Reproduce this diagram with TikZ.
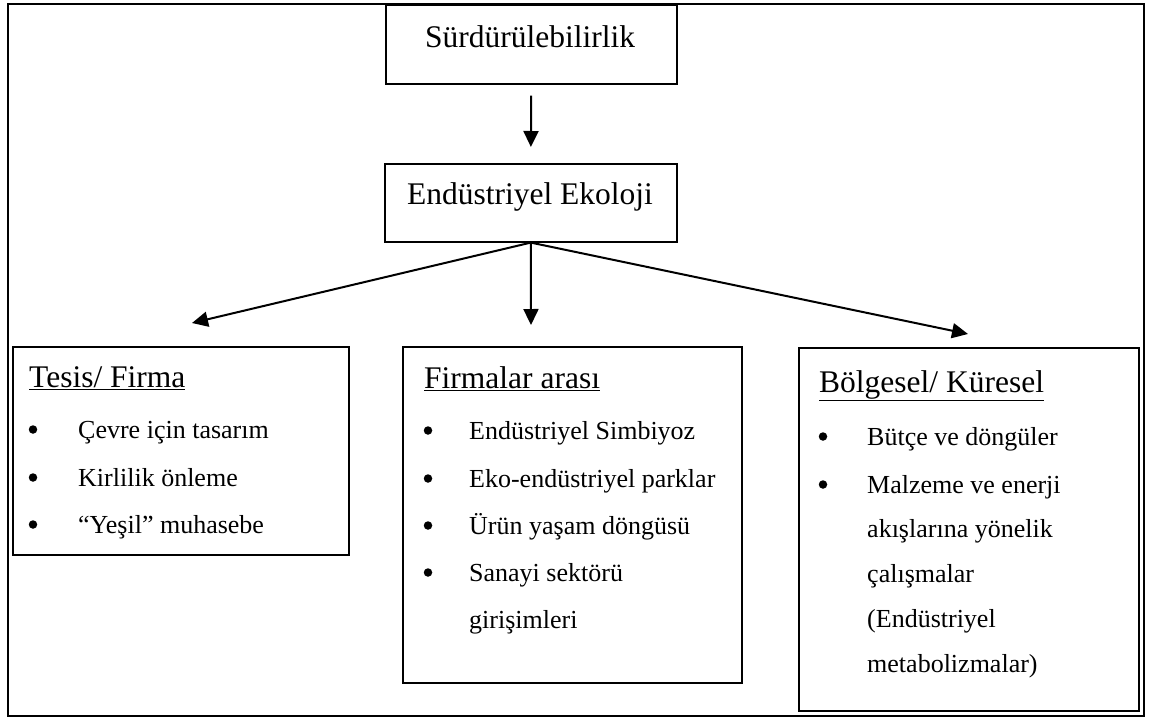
\documentclass[tikz,border=0pt]{standalone}
\usepackage{fontspec}
\setmainfont{Liberation Serif}
\usetikzlibrary{arrows.meta}
\tikzset{
  box/.style={draw=black, line width=1.6pt, rectangle, inner sep=0pt, anchor=north west},
  title/.style={anchor=base, inner sep=0pt, font=\fontsize{31.5}{38}\selectfont},
  head/.style={anchor=base west, inner sep=0pt, font=\fontsize{31.5}{38}\selectfont},
  item/.style={anchor=base west, inner sep=0pt, font=\fontsize{26}{30}\selectfont},
  bul/.style={circle, fill=black, inner sep=0pt, minimum size=8.5pt, yshift=8.5pt},
  conn/.style={line width=2pt, -{Triangle[length=16pt,width=15pt]}}
}
\begin{document}
\begin{tikzpicture}[x=1pt,y=-1pt]
\useasboundingbox (0,0) rectangle (1149,718);
\draw[line width=2.2pt] (8,4) rectangle (1144,716);
% top boxes
\node[box, minimum width=291pt, minimum height=79pt] (sur) at (385,4) {};
\node[title] (surt) at (530,47) {Sürdürülebilirlik};
\node[box, minimum width=292pt, minimum height=78pt] (eko) at (384,163) {};
\node[title] (ekot) at (530,204) {Endüstriyel Ekoloji};
% lower boxes
\node[box, minimum width=336pt, minimum height=208pt] (tes) at (12,346) {};
\node[box, minimum width=339pt, minimum height=336pt] (fir) at (402,346) {};
\node[box, line width=2.4pt, minimum width=340pt, minimum height=363pt] (bol) at (798,347) {};
% connectors
\coordinate (tl) at (192,323);
\coordinate (tm) at (531,325);
\coordinate (tr) at (968,334);
\draw[conn, shorten <=11pt, shorten >=16pt] (sur.south) -- (eko.north);
\draw[conn] (eko.south) -- (tl);
\draw[conn] (eko.south) -- (tm);
\draw[conn] (eko.south) -- (tr);
% Tesis
\node[head] (h1) at (29,387) {\underline{Tesis/ Firma}};
\node[bul] (b11) at (33,438) {};
\node[item] (i11) at (78,438) {Çevre için tasarım};
\node[bul] (b12) at (33,486) {};
\node[item] (i12) at (78,486) {Kirlilik önleme};
\node[bul] (b13) at (33,533) {};
\node[item] (i13) at (78,533) {“Yeşil” muhasebe};
% Firmalar
\node[head] (h2) at (424,388) {\underline{Firmalar arası}};
\node[bul] (b21) at (428,439) {};
\node[item] (i21) at (469,439) {Endüstriyel Simbiyoz};
\node[bul] (b22) at (428,487) {};
\node[item] (i22) at (469,487) {Eko-endüstriyel parklar};
\node[bul] (b23) at (428,534) {};
\node[item] (i23) at (469,534) {Ürün yaşam döngüsü};
\node[bul] (b24) at (428,581) {};
\node[item] (i24) at (469,581) {Sanayi sektörü};
\node[item] (i25) at (469,628) {girişimleri};
% Bolgesel
\node[head] (h3) at (819,392) {\underline{Bölgesel/ Küresel}};
\node[bul] (b31) at (823,445) {};
\node[item] (i31) at (867,445) {Bütçe ve döngüler};
\node[bul] (b32) at (823,493) {};
\node[item] (i32) at (867,493) {Malzeme ve enerji};
\node[item] (i33) at (867,537) {akışlarına yönelik};
\node[item] (i34) at (867,582) {çalışmalar};
\node[item] (i35) at (867,627) {(Endüstriyel};
\node[item] (i36) at (867,672) {metabolizmalar)};
\end{tikzpicture}
\end{document}
